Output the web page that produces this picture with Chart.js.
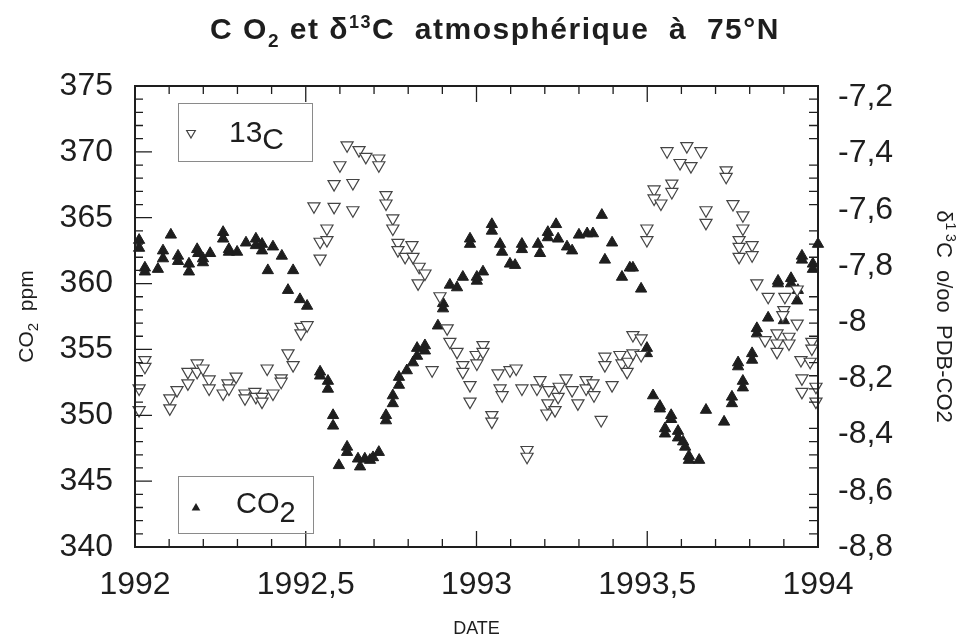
<!DOCTYPE html>
<html>
<head>
<meta charset="utf-8">
<script src="https://cdn.jsdelivr.net/npm/chart.js@4.4.1/dist/chart.umd.min.js"></script>
<style>
  html, body { margin: 0; padding: 0; background: #fff; }
  #wrap { width: 973px; height: 638px; }
</style>
</head>
<body>
<div id="wrap"><canvas id="chart" width="973" height="638"></canvas></div>
<script>
// Données (CO2 ppm, axe gauche)
const co2Dates = [
  1992.012, 1992.012, 1992.029, 1992.029, 1992.067, 1992.082, 1992.082, 1992.105, 1992.126, 1992.126,
  1992.158, 1992.158, 1992.182, 1992.185, 1992.199, 1992.199, 1992.220, 1992.258, 1992.258, 1992.275,
  1992.275, 1992.299, 1992.325, 1992.354, 1992.354, 1992.372, 1992.372, 1992.389, 1992.404, 1992.430,
  1992.448, 1992.463, 1992.483, 1992.504, 1992.542, 1992.542, 1992.565, 1992.565, 1992.580, 1992.580,
  1992.597, 1992.621, 1992.621, 1992.653, 1992.659, 1992.673, 1992.688, 1992.697, 1992.714, 1992.735,
  1992.735, 1992.755, 1992.755, 1992.773, 1992.773, 1992.796, 1992.814, 1992.826, 1992.826, 1992.849,
  1992.849, 1992.887, 1992.902, 1992.902, 1992.922, 1992.943, 1992.960, 1992.981, 1992.981, 1993.001,
  1993.019, 1993.001, 1993.045, 1993.045, 1993.069, 1993.075, 1993.098, 1993.113, 1993.133, 1993.133,
  1993.180, 1993.186, 1993.209, 1993.209, 1993.233, 1993.239, 1993.265, 1993.280, 1993.300, 1993.324,
  1993.341, 1993.367, 1993.376, 1993.397, 1993.426, 1993.449, 1993.458, 1993.482, 1993.499, 1993.499,
  1993.517, 1993.537, 1993.537, 1993.552, 1993.552, 1993.570, 1993.570, 1993.590, 1993.590, 1993.605,
  1993.611, 1993.622, 1993.622, 1993.652, 1993.672, 1993.725, 1993.748, 1993.748, 1993.766, 1993.766,
  1993.780, 1993.780, 1993.807, 1993.807, 1993.821, 1993.821, 1993.854, 1993.883, 1993.883, 1993.900,
  1993.921, 1993.921, 1993.939, 1993.941, 1993.953, 1993.953, 1993.985, 1993.985, 1994.000
];
const co2Ppm = [
  363.3, 362.7, 361.2, 360.9, 361.1, 362.5, 361.9, 363.7, 362.1, 361.7,
  361.5, 360.9, 362.6, 362.3, 361.9, 361.6, 362.3, 363.9, 363.4, 362.6,
  362.4, 362.4, 363.1, 363.4, 362.9, 363.0, 362.5, 361.0, 362.8, 362.1,
  359.5, 361.0, 358.8, 358.3, 353.3, 353.0, 352.6, 352.0, 350.0, 349.2,
  346.2, 347.6, 347.2, 346.7, 346.1, 346.7, 346.6, 346.8, 347.2, 350.0,
  349.6, 351.5, 350.9, 352.9, 352.3, 353.4, 354.0, 355.1, 354.5, 355.3,
  354.9, 356.8, 358.5, 358.1, 359.9, 359.7, 360.5, 363.4, 363.0, 360.5,
  360.9, 360.2, 364.5, 364.0, 363.0, 362.4, 361.5, 361.4, 363.0, 362.6,
  363.0, 362.3, 363.9, 363.5, 364.5, 363.4, 362.8, 362.5, 363.7, 363.8,
  363.8, 365.2, 361.8, 363.1, 360.5, 361.2, 361.2, 359.6, 355.1, 354.7,
  351.5, 350.7, 350.5, 349.0, 348.6, 350.0, 349.7, 348.8, 348.3, 348.0,
  347.6, 346.9, 346.6, 346.6, 350.4, 349.5, 351.4, 350.9, 354.0, 353.7,
  352.6, 352.1, 354.7, 354.2, 356.6, 356.2, 357.4, 360.2, 360.0, 357.2,
  360.4, 360.0, 358.7, 359.5, 362.1, 361.8, 361.5, 361.1, 363.0
];

// delta 13C o/oo PDB-CO2 (axe droit)
const d13cDates = [
  1992.029, 1992.029, 1992.012, 1992.012, 1992.102, 1992.102, 1992.123, 1992.155, 1992.155, 1992.182,
  1992.182, 1992.199, 1992.217, 1992.217, 1992.258, 1992.272, 1992.275, 1992.296, 1992.322, 1992.322,
  1992.351, 1992.354, 1992.372, 1992.372, 1992.387, 1992.404, 1992.428, 1992.428, 1992.448, 1992.463,
  1992.486, 1992.486, 1992.504, 1992.524, 1992.542, 1992.542, 1992.562, 1992.562, 1992.583, 1992.583,
  1992.600, 1992.621, 1992.638, 1992.638, 1992.656, 1992.676, 1992.714, 1992.714, 1992.735, 1992.735,
  1992.755, 1992.755, 1992.770, 1992.770, 1992.791, 1992.811, 1992.814, 1992.832, 1992.849, 1992.829,
  1992.893, 1992.870, 1992.914, 1992.922, 1992.943, 1992.960, 1992.960, 1992.981, 1992.981, 1992.999,
  1993.001, 1993.019, 1993.019, 1993.045, 1993.045, 1993.063, 1993.069, 1993.075, 1993.098, 1993.116,
  1993.133, 1993.148, 1993.148, 1993.177, 1993.186, 1993.212, 1993.209, 1993.206, 1993.230, 1993.239,
  1993.242, 1993.262, 1993.280, 1993.297, 1993.321, 1993.321, 1993.341, 1993.344, 1993.365, 1993.376,
  1993.376, 1993.397, 1993.420, 1993.426, 1993.444, 1993.441, 1993.458, 1993.482, 1993.458, 1993.482,
  1993.499, 1993.499, 1993.520, 1993.520, 1993.540, 1993.558, 1993.572, 1993.572, 1993.596, 1993.616,
  1993.628, 1993.657, 1993.672, 1993.672, 1993.731, 1993.731, 1993.751, 1993.780, 1993.780, 1993.769,
  1993.769, 1993.769, 1993.807, 1993.807, 1993.821, 1993.854, 1993.903, 1993.939, 1993.900, 1993.897,
  1993.939, 1993.845, 1993.880, 1993.880, 1993.880, 1993.915, 1993.915, 1993.982, 1993.982, 1993.950,
  1993.977, 1993.953, 1993.953, 1993.994, 1993.994
];
const d13cValues = [
  -8.135, -8.159, -8.236, -8.313, -8.271, -8.307, -8.242, -8.177, -8.218, -8.147,
  -8.177, -8.165, -8.204, -8.236, -8.254, -8.218, -8.236, -8.194, -8.254, -8.271,
  -8.248, -8.266, -8.266, -8.283, -8.165, -8.254, -8.200, -8.212, -8.111, -8.153,
  -8.017, -8.040, -8.011, -7.588, -7.714, -7.774, -7.667, -7.708, -7.509, -7.590,
  -7.442, -7.371, -7.505, -7.602, -7.388, -7.412, -7.418, -7.442, -7.548, -7.578,
  -7.631, -7.667, -7.718, -7.744, -7.768, -7.726, -7.768, -7.803, -7.827, -7.862,
  -7.908, -8.171, -8.022, -8.070, -8.106, -8.153, -8.177, -8.224, -8.283, -8.117,
  -8.147, -8.082, -8.106, -8.331, -8.354, -8.182, -8.236, -8.260, -8.171, -8.165,
  -8.236, -8.455, -8.479, -8.236, -8.206, -8.242, -8.289, -8.325, -8.313, -8.266,
  -8.230, -8.200, -8.242, -8.289, -8.206, -8.236, -8.218, -8.260, -8.348, -8.123,
  -8.153, -8.224, -8.117, -8.147, -8.141, -8.177, -8.046, -8.058, -8.111, -8.117,
  -7.667, -7.708, -7.528, -7.560, -7.578, -7.392, -7.507, -7.537, -7.434, -7.374,
  -7.445, -7.392, -7.602, -7.647, -7.460, -7.483, -7.580, -7.620, -7.667, -7.708,
  -7.732, -7.768, -7.726, -7.762, -7.862, -7.910, -7.910, -7.884, -7.957, -7.975,
  -8.005, -8.064, -8.040, -8.076, -8.106, -8.052, -8.076, -8.070, -8.094, -8.135,
  -8.141, -8.200, -8.248, -8.230, -8.283
];

// Axes
const dateTicks = [1992, 1992.5, 1993, 1993.5, 1994];
const co2Range = [340, 375];
const d13cRange = [-8.8, -7.16];

const FONT = "'Liberation Sans', Arial, Helvetica, sans-serif";
const INK = '#1e1e1e';

const toPoints = (xs, ys) => xs.map((x, i) => ({ x: x, y: ys[i] }));

// petit utilitaire : texte avec indices / exposants
function richText(ctx, parts, x, y, align, weight) {
  let w = 0;
  parts.forEach(p => {
    ctx.font = (weight || '') + ' ' + p[1] + 'px ' + FONT;
    w += ctx.measureText(p[0]).width;
  });
  let cx = align === 'center' ? x - w / 2 : x;
  parts.forEach(p => {
    ctx.font = (weight || '') + ' ' + p[1] + 'px ' + FONT;
    ctx.fillText(p[0], cx, y + p[2]);
    cx += ctx.measureText(p[0]).width;
  });
}

function tri(ctx, x, y, r, down, filled) {
  const s = down ? -1 : 1;
  ctx.beginPath();
  ctx.moveTo(x, y - s * r);
  ctx.lineTo(x + r * 0.866, y + s * r / 2);
  ctx.lineTo(x - r * 0.866, y + s * r / 2);
  ctx.closePath();
  if (filled) { ctx.fillStyle = INK; ctx.fill(); }
  else { ctx.fillStyle = '#fff'; ctx.fill(); ctx.strokeStyle = '#444'; ctx.lineWidth = 1.2; ctx.stroke(); }
}

const decorPlugin = {
  id: 'decor',
  afterDatasetsDraw(chart) {
    const { ctx, chartArea: a, scales } = chart;
    ctx.save();
    ctx.strokeStyle = INK;
    ctx.lineWidth = 1.3;

    // graduations intérieures
    ctx.beginPath();
    for (let v = co2Range[0] + 1; v < co2Range[1]; v++) {
      const y = scales.y.getPixelForValue(v);
      const len = v % 5 === 0 ? 17 : 8;
      ctx.moveTo(a.left, y); ctx.lineTo(a.left + len, y);
      if (v % 5 !== 0) { ctx.moveTo(a.right, y); ctx.lineTo(a.right - 9, y); }
    }
    for (let k = 1; k < 20; k++) {
      const x = scales.x.getPixelForValue(1992 + k * 0.1);
      const len = k % 5 === 0 ? 16 : 8;
      ctx.moveTo(x, a.bottom); ctx.lineTo(x, a.bottom - len);
      ctx.moveTo(x, a.top); ctx.lineTo(x, a.top + len);
    }
    ctx.stroke();

    // cadre
    ctx.lineWidth = 2;
    ctx.strokeRect(a.left, a.top, a.right - a.left, a.bottom - a.top);

    // titre
    ctx.fillStyle = INK;
    ctx.textBaseline = 'alphabetic';
    ctx.save();
    ctx.letterSpacing = '1.5px';
    richText(ctx, [['C O', 30, 0], ['2', 19, 8], [' et δ', 30, 0], ['13', 18, -11],
      ['C  atmosphérique  à  75°N', 30, 0]], 495, 39, 'center', 'bold');
    ctx.restore();

    // titres des axes
    richText(ctx, [['DATE', 18, 0]], (a.left + a.right) / 2, 634, 'center');

    ctx.save();
    ctx.translate(33, (a.top + a.bottom) / 2);
    ctx.rotate(-Math.PI / 2);
    richText(ctx, [['CO', 21, 0], ['2', 15, 5], ['  ppm', 21, 0]], 0, 0, 'center');
    ctx.restore();

    ctx.save();
    ctx.translate(937, (a.top + a.bottom) / 2);
    ctx.rotate(Math.PI / 2);
    richText(ctx, [['δ', 22, 0], ['1 3', 14, -9], ['C  o/oo  PDB-CO2', 22, 0]], 0, 0, 'center');
    ctx.restore();

    // légendes encadrées
    ctx.strokeStyle = '#8a8a8a';
    ctx.lineWidth = 1;
    ctx.strokeRect(178.5, 103.5, 134, 58);
    ctx.strokeRect(178.5, 476.5, 135, 57);
    tri(ctx, 191, 133, 5, true, false);
    tri(ctx, 196, 508, 5, false, true);
    ctx.fillStyle = INK;
    richText(ctx, [['13', 30, 0], ['C', 30, 7]], 229, 142, 'left');
    richText(ctx, [['CO', 29, 0], ['2', 29, 9]], 236, 513, 'left');
    ctx.restore();
  }
};

const tickFont = { family: FONT, size: 32 };
const fmt = v => String(Number(v.toFixed(1))).replace('.', ',');

new Chart(document.getElementById('chart'), {
  type: 'scatter',
  data: {
    datasets: [
      {
        label: '13C',
        data: toPoints(d13cDates, d13cValues),
        yAxisID: 'y2',
        pointStyle: 'triangle',
        rotation: 180,
        pointRadius: 7,
        backgroundColor: '#ffffff',
        borderColor: '#444444',
        borderWidth: 1.2,
        clip: false
      },
      {
        label: 'CO2',
        data: toPoints(co2Dates, co2Ppm),
        yAxisID: 'y',
        pointStyle: 'triangle',
        pointRadius: 6.5,
        backgroundColor: INK,
        borderColor: INK,
        borderWidth: 1,
        clip: false
      }
    ]
  },
  options: {
    responsive: false,
    animation: false,
    layout: { padding: { top: 86, left: 0, right: 0, bottom: 0 } },
    plugins: { legend: { display: false }, tooltip: { enabled: false }, title: { display: false } },
    scales: {
      x: {
        type: 'linear',
        min: dateTicks[0],
        max: dateTicks[dateTicks.length - 1],
        afterBuildTicks: s => { s.ticks = dateTicks.map(v => ({ value: v })); },
        afterFit: s => { s.height = 91; },
        grid: { drawOnChartArea: false, drawTicks: false },
        border: { display: false },
        ticks: { font: tickFont, color: INK, padding: 19, maxRotation: 0, callback: fmt }
      },
      y: {
        position: 'left',
        min: co2Range[0],
        max: co2Range[1],
        afterFit: s => { s.width = 135; },
        grid: { drawOnChartArea: false, drawTicks: false },
        border: { display: false },
        ticks: { font: tickFont, color: INK, padding: 22, stepSize: 5 }
      },
      y2: {
        position: 'right',
        min: d13cRange[0],
        max: d13cRange[1],
        afterFit: s => { s.width = 155; },
        grid: { drawOnChartArea: false, drawTicks: false },
        border: { display: false },
        ticks: { font: tickFont, color: INK, padding: 20, stepSize: 0.2, includeBounds: false, callback: fmt }
      }
    }
  },
  plugins: [decorPlugin]
});
</script>
</body>
</html>
